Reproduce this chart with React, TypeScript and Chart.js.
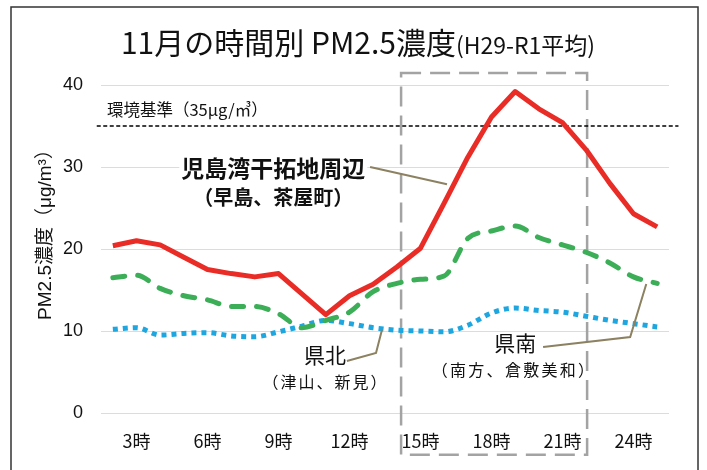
import React, { useEffect, useRef } from "react";
import { Chart, registerables } from "chart.js";

Chart.register(...registerables);

// ---- data ----
const categories = [
  "1時", "2時", "3時", "4時", "5時", "6時", "7時", "8時", "9時", "10時", "11時", "12時",
  "13時", "14時", "15時", "16時", "17時", "18時", "19時", "20時", "21時", "22時", "23時", "24時",
];
const xTickLabels = [
  "", "3時", "", "", "6時", "", "", "9時", "", "", "12時", "",
  "", "15時", "", "", "18時", "", "", "21時", "", "", "24時", "",
];
const kojimaValues = [
  20.4, 21.0, 20.5, 19.0, 17.5, 17.0, 16.6, 17.0, 14.5, 12.0, 14.3, 15.7,
  17.8, 20.1, 25.6, 31.2, 36.1, 39.2, 37.1, 35.4, 32.1, 28.0, 24.3, 22.7,
];
const kennanValues = [
  16.5, 16.8, 15.2, 14.3, 13.8, 13.0, 13.0, 12.1, 10.4, 11.3, 12.3, 14.8,
  15.8, 16.3, 16.7, 21.3, 22.2, 22.8, 21.4, 20.5, 19.6, 18.3, 16.6, 15.8,
];
const kenhokuValues = [
  10.2, 10.4, 9.5, 9.7, 9.8, 9.4, 9.3, 9.9, 10.6, 11.3, 10.9, 10.4,
  10.1, 10.0, 9.9, 10.7, 12.2, 12.8, 12.5, 12.3, 11.8, 11.3, 10.9, 10.5,
];
const yTicks = [0, 10, 20, 30, 40];
const standardValue = 35;

const titleMain = "11月の時間別 PM2.5濃度";
const titleSub = "(H29-R1平均)";
const yTitle = "PM2.5濃度（μg/m³）";
const standardLabel = "環境基準（35μg/㎥）";

const FONT_JP = '"Noto Sans CJK JP", "Liberation Sans", sans-serif';
const FONT_NUM = '"Liberation Sans", "Noto Sans CJK JP", sans-serif';

// annotation positions in data space (x = category index, y = value)
const focusBox = { x0: 12.18, x1: 20.04, y0: -5.1, y1: 41.45 };
const standardSpan = { x0: -0.68, x1: 23.9 };

const annotationPlugin = {
  id: "pmAnnotations",
  beforeDatasetsDraw(chart: any) {
    const { ctx, scales } = chart;
    const X = (v: number) => scales.x.getPixelForValue(v);
    const Y = (v: number) => scales.y.getPixelForValue(v);
    ctx.save();
    // dashed focus box
    ctx.strokeStyle = "#a3a3a3";
    ctx.lineWidth = 2.5;
    ctx.setLineDash([20, 9]);
    ctx.strokeRect(X(focusBox.x0), Y(focusBox.y1), X(focusBox.x1) - X(focusBox.x0), Y(focusBox.y0) - Y(focusBox.y1));
    // environmental standard line
    ctx.strokeStyle = "#000";
    ctx.lineWidth = 1.4;
    ctx.setLineDash([4, 2.5]);
    ctx.beginPath();
    ctx.moveTo(X(standardSpan.x0), Y(standardValue));
    ctx.lineTo(X(standardSpan.x1), Y(standardValue));
    ctx.stroke();
    ctx.setLineDash([]);
    ctx.fillStyle = "#111";
    ctx.font = `16.5px ${FONT_JP}`;
    ctx.textAlign = "left";
    ctx.textBaseline = "middle";
    ctx.fillText(standardLabel, X(-0.25), Y(36.95));
    ctx.restore();
  },
  afterDatasetsDraw(chart: any) {
    const { ctx, scales } = chart;
    const X = (v: number) => scales.x.getPixelForValue(v);
    const Y = (v: number) => scales.y.getPixelForValue(v);
    ctx.save();
    // leader lines
    ctx.strokeStyle = "#8c8160";
    ctx.lineWidth = 2;
    const poly = (pts: number[][]) => {
      ctx.beginPath();
      pts.forEach((p, i) => (i === 0 ? ctx.moveTo(X(p[0]), Y(p[1])) : ctx.lineTo(X(p[0]), Y(p[1]))));
      ctx.stroke();
    };
    poly([[10.87, 30.0], [14.12, 27.9]]);
    poly([[9.89, 6.34], [11.12, 7.32], [11.37, 10.12]]);
    poly([[18.18, 8.05], [21.86, 9.27], [22.54, 15.73]]);

    ctx.textAlign = "center";
    ctx.textBaseline = "middle";
    ctx.fillStyle = "#111";
    // 児島湾干拓地周辺 label with white backing
    ctx.font = `bold 23px ${FONT_JP}`;
    const t1 = "児島湾干拓地周辺";
    const w1 = ctx.measureText(t1).width;
    ctx.fillStyle = "#fff";
    ctx.fillRect(X(6.78) - w1 / 2 - 2, Y(29.9) - 13, w1 + 4, 26);
    ctx.fillStyle = "#111";
    ctx.fillText(t1, X(6.78), Y(29.9));
    ctx.font = `bold 20px ${FONT_JP}`;
    ctx.fillText("（早島、茶屋町）", X(6.78), Y(26.3));

    ctx.font = `21px ${FONT_JP}`;
    ctx.fillText("県北", X(8.96), Y(7.07));
    ctx.font = `16px ${FONT_JP}`;
    (ctx as any).letterSpacing = "2px";
    ctx.fillText("（津山、新見）", X(8.94) + 1, Y(3.78));
    (ctx as any).letterSpacing = "0px";

    ctx.font = `21px ${FONT_JP}`;
    ctx.fillText("県南", X(17.0), Y(8.54));
    ctx.font = `16px ${FONT_JP}`;
    (ctx as any).letterSpacing = "2.3px";
    ctx.fillText("（南方、倉敷美和）", X(16.91) + 1, Y(5.24));
    (ctx as any).letterSpacing = "0px";
    ctx.restore();
  },
  afterDraw(chart: any) {
    const { ctx, chartArea } = chart;
    ctx.save();
    // title
    ctx.fillStyle = "#111";
    ctx.textBaseline = "middle";
    ctx.textAlign = "left";
    ctx.font = `30px ${FONT_JP}`;
    const wm = ctx.measureText(titleMain).width;
    ctx.font = `23px ${FONT_JP}`;
    const ws = ctx.measureText(titleSub).width;
    const start = 358 - (wm + ws) / 2;
    ctx.font = `30px ${FONT_JP}`;
    ctx.fillText(titleMain, start, 43);
    ctx.font = `23px ${FONT_JP}`;
    ctx.fillText(titleSub, start + wm, 45);
    // y axis title
    ctx.save();
    ctx.translate(46, (chartArea.top + chartArea.bottom) / 2 - 19);
    ctx.rotate(-Math.PI / 2);
    ctx.textAlign = "center";
    ctx.font = `19px ${FONT_NUM}`;
    ctx.fillText(yTitle, 0, 0);
    ctx.restore();
    // outer frame
    ctx.strokeStyle = "#333";
    ctx.lineWidth = 1.5;
    ctx.strokeRect(11, 7, 687, 600);
    ctx.restore();
  },
};

export default function App() {
  const ref = useRef<HTMLCanvasElement | null>(null);
  useEffect(() => {
    if (!ref.current) return;
    const chart = new Chart(ref.current, {
      type: "line",
      data: {
        labels: categories,
        datasets: [
          {
            label: "児島湾干拓地周辺（早島、茶屋町）",
            data: kojimaValues,
            borderColor: "#ea2c27",
            borderWidth: 5,
            pointRadius: 0,
            tension: 0,
            borderJoinStyle: "round",
          },
          {
            label: "県南（南方、倉敷美和）",
            data: kennanValues,
            borderColor: "#3bae57",
            borderWidth: 5,
            pointRadius: 0,
            borderDash: [12, 13],
            borderCapStyle: "round",
            cubicInterpolationMode: "monotone",
          },
          {
            label: "県北（津山、新見）",
            data: kenhokuValues,
            borderColor: "#1ea6e0",
            borderWidth: 5,
            pointRadius: 0,
            borderDash: [5, 5],
            borderCapStyle: "butt",
            cubicInterpolationMode: "monotone",
          },
        ],
      },
      options: {
        responsive: false,
        animation: false,
        layout: { padding: { left: 0, right: 38, top: 85, bottom: 0 } },
        plugins: { legend: { display: false }, tooltip: { enabled: false }, title: { display: false } },
        scales: {
          x: {
            offset: true,
            grid: { display: false, drawTicks: false },
            border: { display: false },
            ticks: {
              autoSkip: false,
              maxRotation: 0,
              padding: 17,
              color: "#111",
              font: { family: FONT_JP, size: 18 },
              callback: (_v: any, i: number) => xTickLabels[i],
            },
            afterFit: (s: any) => {
              s.height = 57;
            },
          },
          y: {
            min: 0,
            max: 40,
            afterBuildTicks: (s: any) => {
              s.ticks = yTicks.map((v) => ({ value: v }));
            },
            grid: { color: "#dcdcdc", lineWidth: 1, drawTicks: false },
            border: { display: false },
            ticks: {
              padding: 18,
              color: "#111",
              font: { family: FONT_NUM, size: 18 },
            },
            afterFit: (s: any) => {
              s.width = 101;
            },
          },
        },
      },
      plugins: [annotationPlugin],
    } as any);
    return () => chart.destroy();
  }, []);
  return (
    <div style={{ position: "fixed", left: 0, top: 0, width: 707, height: 470, background: "#fff" }}>
      <canvas ref={ref} width={707} height={470} style={{ display: "block" }} />
    </div>
  );
}
